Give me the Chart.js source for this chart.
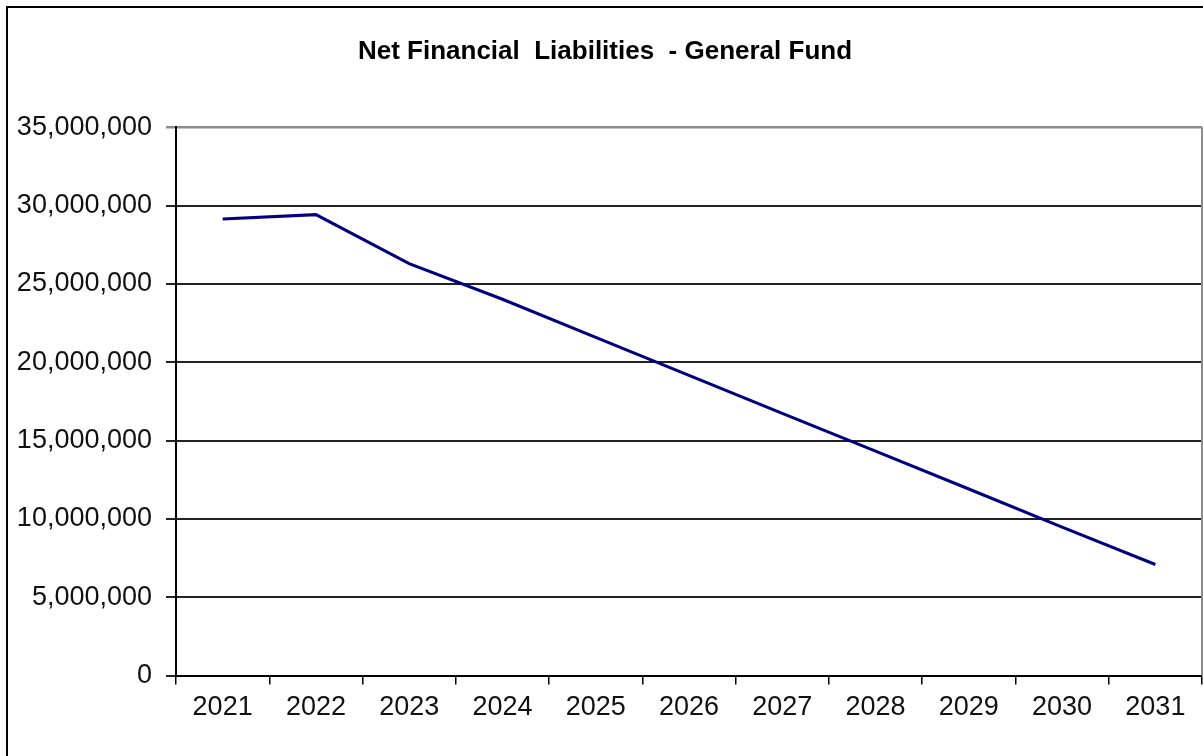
<!DOCTYPE html>
<html lang="en">
<head>
  <meta charset="UTF-8">
  <title>Net Financial Liabilities - General Fund</title>
  <script src="https://cdn.jsdelivr.net/npm/chart.js"></script>
  <style>
    html, body { margin: 0; padding: 0; background: #fff; overflow: hidden; }
    #frame {
      position: absolute;
      left: 6px;
      top: 6px;
      width: 1260px;
      height: 800px;
      border: 2px solid #000;
    }
    #graphic { display: block; }
  </style>
</head>
<body>
  <div id="frame">
    <canvas id="graphic" width="1195" height="748"></canvas>
  </div>

  <script>
    // Datos
    const years = ["2021", "2022", "2023", "2024", "2025", "2026", "2027", "2028", "2029", "2030", "2031"];
    const liabilities = [29140000, 29420000, 26290000, 24020000, 21590000, 19160000, 16740000, 14320000, 11910000, 9480000, 7090000];
    const yMin = 0;
    const yMax = 35000000;
    const yStep = 5000000;

    const fontFamily = "'Liberation Sans', Arial, sans-serif";

    // borde gris derecho del area de trazado
    const plotBorder = {
      id: 'plotBorder',
      afterDraw(chart) {
        const { ctx, chartArea } = chart;
        ctx.save();
        ctx.strokeStyle = '#8c8c8c';
        ctx.lineWidth = 2;
        ctx.beginPath();
        ctx.moveTo(chartArea.right, chartArea.top);
        ctx.lineTo(chartArea.right, chartArea.bottom);
        ctx.stroke();
        ctx.restore();
      }
    };

    const lienzo = document.getElementById("graphic");

    const grafico = new Chart(lienzo, {
      type: 'line',
      data: {
        labels: years,
        datasets: [
          {
            data: liabilities,
            borderColor: '#000080',
            borderWidth: 3,
            pointRadius: 0,
            tension: 0,
            fill: false
          }
        ]
      },
      options: {
        responsive: false,
        animation: false,
        layout: {
          padding: { left: 0, right: 1, top: 0, bottom: 25 }
        },
        plugins: {
          legend: { display: false },
          tooltip: { enabled: false },
          title: {
            display: true,
            text: 'Net Financial  Liabilities  - General Fund',
            color: '#000',
            font: { family: fontFamily, size: 26, weight: 'bold' },
            padding: { top: 28, bottom: 60 }
          }
        },
        scales: {
          x: {
            offset: true,
            grid: {
              offset: true,
              drawOnChartArea: false,
              drawTicks: true,
              tickLength: 9,
              color: '#000',
              lineWidth: 1.5
            },
            border: { display: true, color: '#000', width: 2 },
            ticks: {
              color: '#111',
              padding: 7,
              maxRotation: 0,
              font: { family: fontFamily, size: 27 }
            }
          },
          y: {
            min: yMin,
            max: yMax,
            afterFit(scale) {
              scale.width = 168;
            },
            grid: {
              color: ctx => (ctx.tick && ctx.tick.value === yMax) ? '#8c8c8c' : '#222',
              lineWidth: ctx => (ctx.tick && ctx.tick.value === yMax) ? 2.5 : 2,
              tickLength: 10
            },
            border: { display: true, color: '#000', width: 2 },
            ticks: {
              stepSize: yStep,
              color: '#111',
              padding: 14,
              font: { family: fontFamily, size: 27 },
              callback: value => value.toLocaleString('en-US')
            }
          }
        }
      },
      plugins: [plotBorder]
    });
  </script>
</body>
</html>
